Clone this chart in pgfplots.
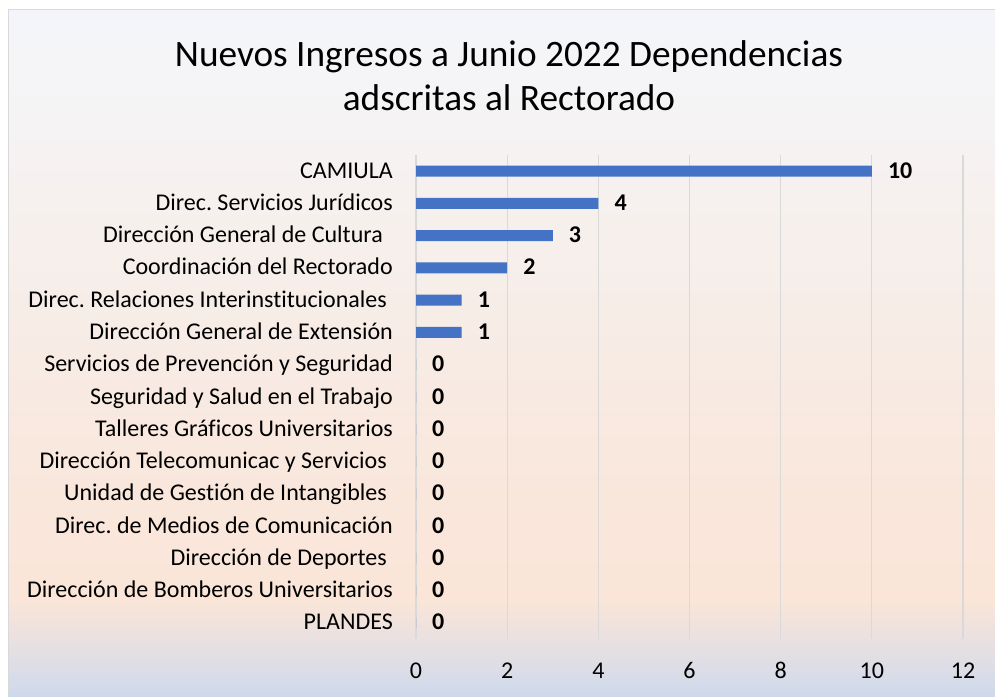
\documentclass[border=0pt]{standalone}
\usepackage{pgfplots}
\pgfplotsset{compat=1.18}
\usepackage{fontspec}
\setmainfont[Ligatures=NoCommon]{Carlito}
\frenchspacing

\definecolor{barblue}{RGB}{68,114,196}
\definecolor{gridgray}{RGB}{217,217,217}
\definecolor{bgA}{RGB}{206,217,236}
\definecolor{bgB}{RGB}{224,222,229}
\definecolor{bgC}{RGB}{250,229,216}
\definecolor{bgD}{RGB}{249,232,222}
\definecolor{bgE}{RGB}{246,239,235}
\definecolor{bgF}{RGB}{245,245,248}
\definecolor{bgG}{RGB}{243,245,250}
\pgfdeclareverticalshading{chartbg}{100bp}{color(0bp)=(bgA); color(25bp)=(bgA); color(27.6bp)=(bgB); color(32bp)=(bgC); color(43bp)=(bgD); color(57.5bp)=(bgE); color(71.5bp)=(bgF); color(75bp)=(bgG); color(100bp)=(bgG)}

\begin{document}
\begin{tikzpicture}
\useasboundingbox (0,0) rectangle (995pt,696pt);
\shade[shading=chartbg] (8pt,0) rectangle (995pt,686pt);
\draw[gridgray, line width=1pt] (8pt,0) -- (8pt,686pt) -- (995pt,686pt);

\node[anchor=base, inner sep=0pt, font=\fontsize{37.3}{44}\selectfont] at (509pt,629pt) {Nuevos Ingresos a Junio 2022 Dependencias};
\node[anchor=base, inner sep=0pt, font=\fontsize{37.3}{44}\selectfont] at (509pt,585pt) {adscritas al Rectorado};

\begin{axis}[
    at={(416pt,57pt)}, anchor=south west,
    scale only axis,
    width=547pt, height=484pt,
    xbar, bar width=11pt,
    xmin=0, xmax=12,
    ymin=-0.5, ymax=14.5,
    y dir=reverse,
    enlargelimits=false,
    xtick={0,2,4,6,8,10,12},
    ytick={0,...,14},
    yticklabels={CAMIULA, Direc. Servicios Jurídicos, Dirección General de Cultura\hspace*{10pt}, Coordinación del Rectorado, Direc. Relaciones Interinstitucionales\hspace*{6pt}, Dirección General de Extensión, Servicios de Prevención y Seguridad, Seguridad y Salud en el Trabajo, Talleres Gráficos Universitarios, Dirección Telecomunicac y Servicios\hspace*{6pt}, Unidad de Gestión de Intangibles\hspace*{6pt}, Direc. de Medios de Comunicación, Dirección de Deportes\hspace*{6pt}, Dirección de Bomberos Universitarios, PLANDES},
    major tick length=0pt,
    axis line style={draw=none},
    xmajorgrids,
    grid style={gridgray, line width=1.3pt},
    /pgf/number format/assume math mode=true,
    tick label style={font=\fontsize{24}{28}\selectfont, inner sep=0pt},
    xticklabel style={anchor=base, yshift=-39pt},
    yticklabel style={anchor=base east, xshift=-23pt, yshift=-7pt},
    nodes near coords,
    every node near coord/.append style={font=\fontsize{24}{28}\selectfont\bfseries, anchor=base west, inner sep=0pt, xshift=16pt, yshift=-7pt},
]
\addplot[fill=barblue, draw=none] coordinates {
    (10,0) (4,1) (3,2) (2,3) (1,4) (1,5) (0,6) (0,7) (0,8) (0,9) (0,10) (0,11) (0,12) (0,13) (0,14)
};
\end{axis}
\end{tikzpicture}
\end{document}
